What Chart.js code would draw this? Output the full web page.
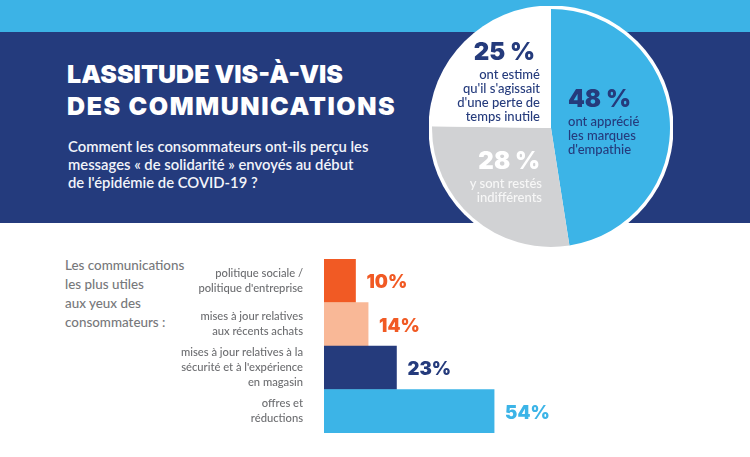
<!DOCTYPE html>
<html lang="fr">
<head>
<meta charset="utf-8">
<script src="https://cdn.jsdelivr.net/npm/chart.js@4.4.1/dist/chart.umd.min.js"></script>
<style>
    body { margin: 0; width: 750px; height: 457px; position: relative; overflow: hidden; background: #fff; font-family: Lato, sans-serif; }
    .band-top { position: absolute; left: 0; top: 0; width: 750px; height: 32px; background: #3cb3e6; }
    .band { position: absolute; left: 0; top: 32px; width: 750px; height: 191px; background: #243b7d; }
    h1 { position: absolute; left: 67px; top: 58px; margin: 0; font: 900 25px/32px Inter, sans-serif; color: #fff; white-space: nowrap; }
    h1 .wide { letter-spacing: 1.6px; }
    .subtitle { position: absolute; left: 68px; top: 137px; margin: 0; font: 600 14.8px/18px Lato, sans-serif; color: #f2f4fa; white-space: nowrap; }
    .big { font: 900 24px/24px Inter, sans-serif; }
    .small { font: 500 13px/14px Lato, sans-serif; }
    .abs { position: absolute; white-space: nowrap; }
    #pieChart { position: absolute; left: 429px; top: 6px; }
    #barChart { position: absolute; left: 0; top: 240px; }
    .intro { position: absolute; left: 65px; top: 256px; font: 500 13.4px/19px Lato, sans-serif; color: #77787b; }
</style>
</head>
<body>
<div class="band-top"></div>
<div class="band"></div>
<h1>LASSITUDE VIS-À-VIS<br><span class="wide">DES COMMUNICATIONS</span></h1>
<p class="subtitle">Comment les consommateurs ont-ils perçu les<br>messages « de solidarité » envoyés au début<br>de l'épidémie de COVID-19 ?</p>

<canvas id="pieChart" width="244" height="244"></canvas>
<div id="pieText"></div>

<div class="intro">Les communications<br>les plus utiles<br>aux yeux des<br>consommateurs :</div>
<canvas id="barChart" width="750" height="217"></canvas>

<script>
// pie: how the "solidarity" messages were perceived
const pieLabels = [
    ["ont apprécié", "les marques", "d'empathie"],
    ["y sont restés", "indifférents"],
    ["ont estimé", "qu'il s'agissait", "d'une perte de", "temps inutile"]
];
const pieValues = [48, 28, 25];
const pieColors = ["#3cb4e7", "#d1d2d4", "#ffffff"];

// bars: most useful communications
const barLabels = [
    ["politique sociale /", "politique d'entreprise"],
    ["mises à jour relatives", "aux récents achats"],
    ["mises à jour relatives à la", "sécurité et à l'expérience", "en magasin"],
    ["offres et", "réductions"]
];
const barValues = [10, 14, 23, 54];
const barColors = ["#f15a24", "#f9b897", "#253b7c", "#3cb4e7"];
const barTextColors = ["#f15a24", "#f15a24", "#253b7c", "#3cb4e7"];

// text blocks inside the pie slices
const pieTextSpots = [
    { left: 568, top: 87, align: "left", color: "#253b7c", sub: "#253b7c", shift: 0 },
    { right: 208, top: 149, align: "right", color: "#ffffff", sub: "#f7f7f7", shift: 2 },
    { right: 210, top: 40, align: "right", color: "#253b7c", sub: "#253b7c", shift: 5 }
];

let html = "";
pieValues.forEach((v, i) => {
    const s = pieTextSpots[i];
    const pos = s.left !== undefined ? `left:${s.left}px;` : `right:${s.right}px;`;
    html += `<div class="abs" style="${pos}top:${s.top}px;text-align:${s.align}">
        <div class="big" style="color:${s.color};padding-right:${s.shift}px">${v} %</div>
        <div class="small" style="color:${s.sub};margin-top:3px">${pieLabels[i].join("<br>")}</div>
    </div>`;
});
document.getElementById("pieText").innerHTML = html;

const whiteRing = {
    id: "whiteRing",
    beforeDatasetsDraw(chart) {
        const arc = chart.getDatasetMeta(0).data[0];
        const ctx = chart.ctx;
        ctx.save();
        ctx.fillStyle = "#ffffff";
        ctx.beginPath();
        ctx.arc(arc.x, arc.y, arc.outerRadius + 3.5, 0, Math.PI * 2);
        ctx.fill();
        ctx.restore();
    }
};

new Chart(document.getElementById("pieChart"), {
    type: "pie",
    data: {
        labels: pieLabels.map(l => l.join(" ")),
        datasets: [{ data: pieValues, backgroundColor: pieColors, borderWidth: 0 }]
    },
    options: {
        responsive: false,
        animation: false,
        devicePixelRatio: 1,
        layout: { padding: 3 },
        plugins: { legend: { display: false }, tooltip: { enabled: false } }
    },
    plugins: [whiteRing]
});

const barValueLabels = {
    id: "barValueLabels",
    afterDatasetsDraw(chart) {
        const ctx = chart.ctx;
        ctx.save();
        ctx.font = "900 18.5px Inter, sans-serif";
        ctx.textBaseline = "middle";
        ctx.textAlign = "left";
        chart.getDatasetMeta(0).data.forEach((bar, i) => {
            ctx.fillStyle = barTextColors[i];
            ctx.fillText(barValues[i] + "%", bar.x + 11, bar.y + 2);
        });
        ctx.restore();
    }
};

new Chart(document.getElementById("barChart"), {
    type: "bar",
    data: {
        labels: barLabels,
        datasets: [{
            data: barValues,
            backgroundColor: barColors,
            borderWidth: 0,
            categoryPercentage: 1,
            barPercentage: 1
        }]
    },
    options: {
        indexAxis: "y",
        responsive: false,
        animation: false,
        devicePixelRatio: 1,
        layout: { padding: { top: 19, bottom: 24, left: 0, right: 111 } },
        scales: {
            x: { display: false, min: 0, max: 100 },
            y: {
                grid: { display: false, drawTicks: false },
                border: { display: false },
                ticks: {
                    autoSkip: false,
                    padding: 21,
                    color: "#6d6e71",
                    font: { family: "Lato", size: 11.2, weight: 500, lineHeight: 1.33 }
                },
                afterFit(scale) {
                    scale.width = 324;
                    scale.paddingTop = 0;
                    scale.paddingBottom = 0;
                }
            }
        },
        plugins: { legend: { display: false }, tooltip: { enabled: false } }
    },
    plugins: [barValueLabels]
});
</script>
</body>
</html>
